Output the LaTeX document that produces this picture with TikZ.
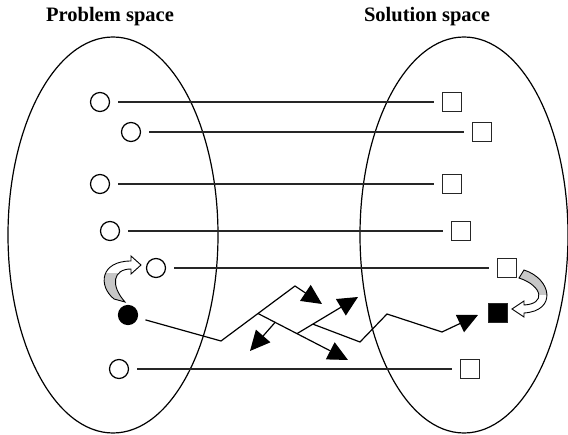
\documentclass[tikz,border=0pt]{standalone}
\usepackage{fontspec}
\setmainfont{Liberation Serif}
\usetikzlibrary{arrows.meta,calc}

\tikzset{
  space/.style={draw=black, line width=1.2pt},
  prob/.style={circle, draw=black, line width=1.2pt, fill=white, minimum size=19pt, inner sep=0pt},
  probsel/.style={prob, fill=black},
  sol/.style={rectangle, draw=black!85, line width=1.4pt, fill=white, minimum size=18.5pt, inner sep=0pt},
  solsel/.style={sol, fill=black},
  mapline/.style={draw=black!85, line width=1.3pt, shorten <=8pt, shorten >=8pt},
  zig/.style={draw=black, line width=1.2pt},
  tip/.style={-{Triangle[length=20pt,width=19pt]}},
  title/.style={font=\bfseries\fontsize{20.5}{24}\selectfont, anchor=base, inner sep=0pt},
  ribbon/.style={draw=black, line width=0.9pt, line join=miter},
  ribbonfill/.style={fill=black!22}
}

\begin{document}
\begin{tikzpicture}[x=1pt, y=-1pt]
\useasboundingbox (0,0) rectangle (568,435);

% headings
\node[title] (tp) at (110,22) {Problem space};
\node[title] (ts) at (427,22) {Solution space};

% the two spaces
\draw[space] (113,235) ellipse [x radius=105, y radius=198];
\draw[space] (464,235) ellipse [x radius=104, y radius=198];

% problems
\node[prob] (c1) at (100,102) {};
\node[prob] (c2) at (131,132) {};
\node[prob] (c3) at (100,184) {};
\node[prob] (c4) at (110,231) {};
\node[prob] (c5) at (156,268) {};
\node[probsel] (c6) at (128,315) {};
\node[prob] (c7) at (119,369) {};

% solutions
\node[sol] (s1) at (452,102) {};
\node[sol] (s2) at (482,132) {};
\node[sol] (s3) at (452,184) {};
\node[sol] (s4) at (461,231) {};
\node[sol] (s5) at (507,268) {};
\node[solsel] (s6) at (498,313) {};
\node[sol] (s7) at (470,369) {};

% direct mappings
\draw[mapline] (c1) -- (s1);
\draw[mapline] (c2) -- (s2);
\draw[mapline] (c3) -- (s3);
\draw[mapline] (c4) -- (s4);
\draw[mapline] (c5) -- (s5);
\draw[mapline] (c7) -- (s7);

% search paths
\coordinate (A) at (221,341);
\coordinate (C) at (295,286);
\coordinate (T1) at (322,304);
\coordinate (E) at (348,360);
\coordinate (F) at (358,297);
\coordinate (H) at (250,351);
\coordinate (J) at (360,342);
\coordinate (K) at (387,314);
\coordinate (L) at (442,332);
\coordinate (M) at (478,315);
\coordinate (B) at ($(A)!0.5!(C)$);
\coordinate (D) at ($(B)!0.433!(E)$);
\coordinate (G) at ($(B)!0.19!(E)$);
\coordinate (I) at ($(D)!0.26!(F)$);

\draw[zig, tip, shorten <=8pt] (c6) -- (A) -- (C) -- (T1);
\draw[zig, tip] (B) -- (E);
\draw[zig, tip] (D) -- (F);
\draw[zig, tip] (G) -- (H);
\draw[zig, tip] (I) -- (J) -- (K) -- (L) -- (M);

% curved ribbon arrow on the problem side
\def\leftribbon{(114,299) .. controls (98,286) and (100,261) .. (131,261)
  -- (131,256) -- (141,265) -- (131,274) -- (131,269)
  .. controls (113,269) and (110,285) .. (125,302) -- cycle}
\fill[white] \leftribbon;
\begin{scope}
  \clip (60,274) rectangle (160,320);
  \fill[ribbonfill] \leftribbon;
\end{scope}
\draw[ribbon] \leftribbon;

% curved ribbon arrow on the solution side
\def\rightribbon{(524,270) .. controls (552,279) and (557,311) .. (524,313)
  -- (524,317) -- (512,309) -- (524,301) -- (524,305)
  .. controls (546,304) and (543,286) .. (519,278) -- cycle}
\fill[white] \rightribbon;
\begin{scope}
  \clip (500,250) rectangle (568,295);
  \fill[ribbonfill] \rightribbon;
\end{scope}
\draw[ribbon] \rightribbon;
\end{tikzpicture}
\end{document}
